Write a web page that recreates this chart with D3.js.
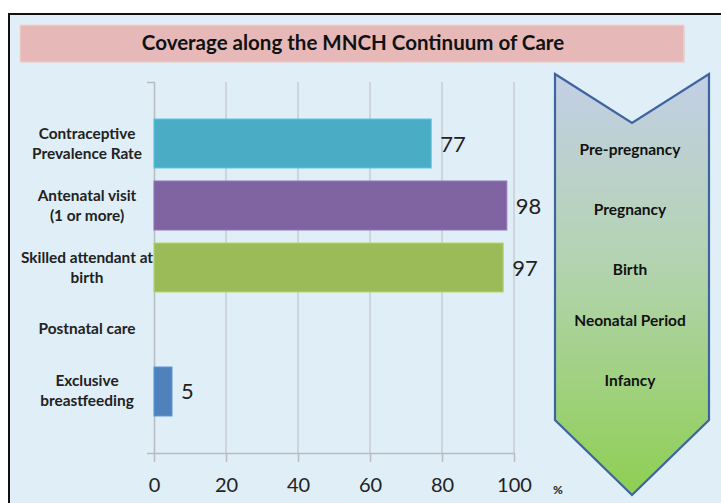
<!DOCTYPE html>
<html><head><meta charset="utf-8">
<script src="https://cdn.jsdelivr.net/npm/d3@7"></script>
<style>html,body{margin:0;padding:0;background:#fff;}svg{display:block;}</style>
</head><body>
<svg id="c" width="721" height="503"></svg>
<script>
const categories = [["Contraceptive","Prevalence Rate"],["Antenatal visit","(1 or more)"],["Skilled attendant at","birth"],["Postnatal care"],["Exclusive","breastfeeding"]];
const values = [77, 98, 97, null, 5];
const barColors = ["#4bacc6", "#8064a2", "#9bbb59", "#4f81bd", "#4f81bd"];
const xTicks = [0, 20, 40, 60, 80, 100];
const stages = ["Pre-pregnancy", "Pregnancy", "Birth", "Neonatal Period", "Infancy"];
const stageY = [149, 209, 269, 320, 380];
const title = "Coverage along the MNCH Continuum of Care";

const svg = d3.select("#c");
const font = "Lato, 'Liberation Sans', sans-serif";

// frame
svg.append("rect").attr("x", 9).attr("y", 14).attr("width", 740).attr("height", 520)
  .attr("fill", "#dfeef7").attr("stroke", "#111").attr("stroke-width", 2);

// title box
svg.append("rect").attr("x", 21).attr("y", 26).attr("width", 664).attr("height", 37)
  .attr("fill", "#c9c9c9").attr("opacity", 0.6);
svg.append("rect").attr("x", 20).attr("y", 25).attr("width", 664).attr("height", 37)
  .attr("fill", "#e6b9b8").attr("stroke", "#f2d5d4").attr("stroke-width", 1);
svg.append("text").attr("x", 353).attr("y", 50).attr("text-anchor", "middle")
  .attr("font-family", font).attr("font-weight", "bold").attr("font-size", 20.5)
  .attr("fill", "#111").text(title);

// scales
const x = d3.scaleLinear().domain([0, 100]).range([154, 514]);
const y = d3.scaleBand().domain(d3.range(categories.length)).range([82, 453])
  .paddingInner(0.21).paddingOuter(0.597);

// gridlines
svg.append("g").selectAll("line").data(xTicks.slice(1)).join("line")
  .attr("x1", d => x(d)).attr("x2", d => x(d)).attr("y1", 82).attr("y2", 453)
  .attr("stroke", "#c8ccd0").attr("stroke-width", 1.5);

// x axis
const xa = svg.append("g").attr("transform", "translate(0,453)")
  .call(d3.axisBottom(x).tickValues(xTicks).tickSize(9).tickSizeOuter(0).tickPadding(16));
xa.select(".domain").attr("stroke", "#b8bcc0").attr("stroke-width", 1.5);
xa.selectAll(".tick line").attr("stroke", "#b8bcc0").attr("stroke-width", 1.5);
xa.selectAll(".tick text").attr("font-family", font).attr("font-size", 20).attr("fill", "#222");

// y axis
const ya = svg.append("g").attr("transform", "translate(154,0)")
  .call(d3.axisLeft(y).tickSize(0).tickSizeOuter(7).tickFormat(""));
ya.select(".domain").attr("stroke", "#b8bcc0").attr("stroke-width", 1.5);

// % unit
svg.append("text").attr("x", 558).attr("y", 494).attr("text-anchor", "middle")
  .attr("font-family", font).attr("font-weight", "bold").attr("font-size", 12).attr("fill", "#222").text("%");

// bars
const idx = d3.range(categories.length).filter(i => values[i] != null);
svg.append("g").selectAll("rect").data(idx).join("rect")
  .attr("x", x(0)).attr("y", i => y(i)).attr("width", i => x(values[i]) - x(0))
  .attr("height", y.bandwidth()).attr("fill", i => barColors[i])
  .attr("stroke", i => d3.color(barColors[i]).brighter(0.4)).attr("stroke-width", 1);

// value labels
svg.append("g").selectAll("text").data(idx).join("text")
  .attr("x", i => x(values[i]) + 9).attr("y", i => y(i) + y.bandwidth() / 2 + 8)
  .attr("font-family", font).attr("font-size", 22).attr("fill", "#222")
  .text(i => values[i]);

// category labels
const cl = svg.append("g").selectAll("text").data(d3.range(categories.length)).join("text")
  .attr("text-anchor", "middle").attr("font-family", font).attr("font-weight", "bold")
  .attr("font-size", 15.4).attr("fill", "#222");
cl.each(function(i) {
  const lines = categories[i];
  const cy = y(i) + y.bandwidth() / 2;
  const t = d3.select(this);
  lines.forEach((ln, k) => {
    t.append("tspan").attr("x", 87)
      .attr("y", cy + (k - (lines.length - 1) / 2) * 20 + 5).text(ln);
  });
});

// chevron
const defs = svg.append("defs");
const g = defs.append("linearGradient").attr("id", "chev").attr("x1", 0).attr("y1", 0).attr("x2", 0).attr("y2", 1);
g.append("stop").attr("offset", "0%").attr("stop-color", "#c3cfe6");
g.append("stop").attr("offset", "45%").attr("stop-color", "#b3d3b0");
g.append("stop").attr("offset", "100%").attr("stop-color", "#8ecf52");
const chevPts = [[555, 74], [632, 123], [709, 74], [709, 420], [632, 495], [555, 420]];
svg.append("path").attr("d", d3.line()(chevPts) + "Z")
  .attr("fill", "url(#chev)").attr("stroke", "#3e64a0").attr("stroke-width", 2.2)
  .attr("stroke-linejoin", "miter");
svg.append("g").selectAll("text").data(stages).join("text")
  .attr("x", 630).attr("y", (d, i) => stageY[i] + 5.5).attr("text-anchor", "middle")
  .attr("font-family", font).attr("font-weight", "bold").attr("font-size", 15.5)
  .attr("fill", "#111").text(d => d);
</script>
</body></html>
